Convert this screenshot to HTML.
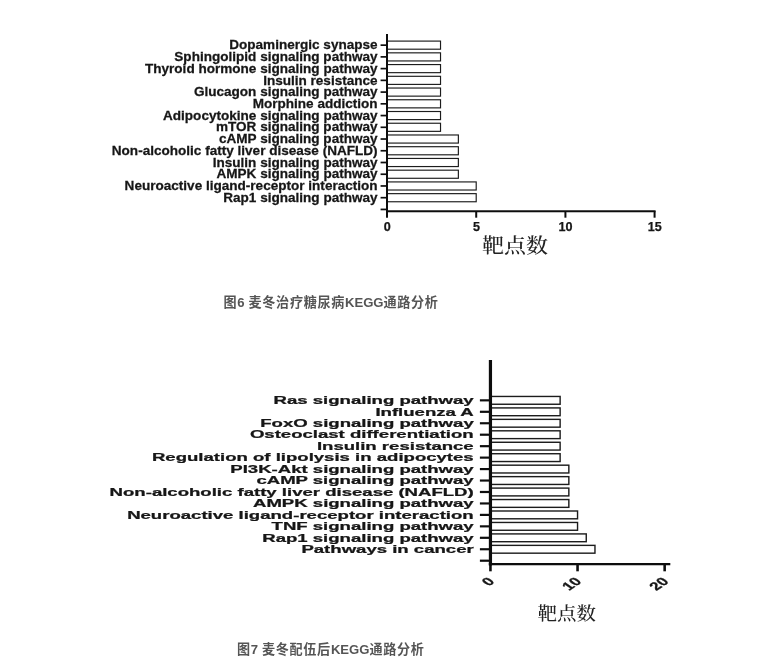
<!DOCTYPE html>
<html lang="zh-CN">
<head>
<meta charset="utf-8">
<title>KEGG通路分析</title>
<style>
html,body{margin:0;padding:0;background:#fff;}
body{width:782px;height:668px;overflow:hidden;font-family:"Liberation Sans","Noto Sans CJK SC",sans-serif;}
svg{display:block;}
.lab{font-family:"Liberation Sans",sans-serif;font-weight:bold;fill:#151515;stroke:#151515;stroke-width:0.25px;}
.cn{font-family:"Liberation Serif","Noto Serif CJK SC",serif;font-weight:500;fill:#222;}
.cap{font-family:"Liberation Sans","Noto Sans CJK SC",sans-serif;font-weight:bold;fill:#555;}
</style>
</head>
<body>
<svg width="782" height="668" viewBox="0 0 782 668">
<defs><filter id="soft" x="0" y="0" width="782" height="668" filterUnits="userSpaceOnUse"><feGaussianBlur stdDeviation="0.45"/></filter></defs>
<rect x="0" y="0" width="782" height="668" fill="#ffffff"/>
<g filter="url(#soft)">

<!-- Figure 6 chart -->
<g id="chart1">
<rect x="387" y="41.1" width="53.52" height="8.1" fill="#fff" stroke="#1a1a1a" stroke-width="1.15"/>
<rect x="387" y="52.84" width="53.52" height="8.1" fill="#fff" stroke="#1a1a1a" stroke-width="1.15"/>
<rect x="387" y="64.57" width="53.52" height="8.1" fill="#fff" stroke="#1a1a1a" stroke-width="1.15"/>
<rect x="387" y="76.3" width="53.52" height="8.1" fill="#fff" stroke="#1a1a1a" stroke-width="1.15"/>
<rect x="387" y="88.04" width="53.52" height="8.1" fill="#fff" stroke="#1a1a1a" stroke-width="1.15"/>
<rect x="387" y="99.77" width="53.52" height="8.1" fill="#fff" stroke="#1a1a1a" stroke-width="1.15"/>
<rect x="387" y="111.51" width="53.52" height="8.1" fill="#fff" stroke="#1a1a1a" stroke-width="1.15"/>
<rect x="387" y="123.24" width="53.52" height="8.1" fill="#fff" stroke="#1a1a1a" stroke-width="1.15"/>
<rect x="387" y="134.98" width="71.36" height="8.1" fill="#fff" stroke="#1a1a1a" stroke-width="1.15"/>
<rect x="387" y="146.71" width="71.36" height="8.1" fill="#fff" stroke="#1a1a1a" stroke-width="1.15"/>
<rect x="387" y="158.45" width="71.36" height="8.1" fill="#fff" stroke="#1a1a1a" stroke-width="1.15"/>
<rect x="387" y="170.18" width="71.36" height="8.1" fill="#fff" stroke="#1a1a1a" stroke-width="1.15"/>
<rect x="387" y="181.92" width="89.2" height="8.1" fill="#fff" stroke="#1a1a1a" stroke-width="1.15"/>
<rect x="387" y="193.66" width="89.2" height="8.1" fill="#fff" stroke="#1a1a1a" stroke-width="1.15"/>
<line x1="380.6" y1="45.15" x2="387" y2="45.15" stroke="#111" stroke-width="1.7"/>
<line x1="380.6" y1="56.88" x2="387" y2="56.88" stroke="#111" stroke-width="1.7"/>
<line x1="380.6" y1="68.62" x2="387" y2="68.62" stroke="#111" stroke-width="1.7"/>
<line x1="380.6" y1="80.35" x2="387" y2="80.35" stroke="#111" stroke-width="1.7"/>
<line x1="380.6" y1="92.09" x2="387" y2="92.09" stroke="#111" stroke-width="1.7"/>
<line x1="380.6" y1="103.82" x2="387" y2="103.82" stroke="#111" stroke-width="1.7"/>
<line x1="380.6" y1="115.56" x2="387" y2="115.56" stroke="#111" stroke-width="1.7"/>
<line x1="380.6" y1="127.29" x2="387" y2="127.29" stroke="#111" stroke-width="1.7"/>
<line x1="380.6" y1="139.03" x2="387" y2="139.03" stroke="#111" stroke-width="1.7"/>
<line x1="380.6" y1="150.76" x2="387" y2="150.76" stroke="#111" stroke-width="1.7"/>
<line x1="380.6" y1="162.5" x2="387" y2="162.5" stroke="#111" stroke-width="1.7"/>
<line x1="380.6" y1="174.23" x2="387" y2="174.23" stroke="#111" stroke-width="1.7"/>
<line x1="380.6" y1="185.97" x2="387" y2="185.97" stroke="#111" stroke-width="1.7"/>
<line x1="380.6" y1="197.71" x2="387" y2="197.71" stroke="#111" stroke-width="1.7"/>
<line x1="380.6" y1="209.44" x2="387" y2="209.44" stroke="#111" stroke-width="1.7"/>
<line x1="387" y1="34" x2="387" y2="212.2" stroke="#111" stroke-width="2.0"/>
<line x1="386" y1="211.2" x2="655.6" y2="211.2" stroke="#111" stroke-width="2.0"/>
<line x1="387" y1="211.2" x2="387" y2="217.7" stroke="#111" stroke-width="2.0"/>
<text class="lab" x="387.2" y="231.2" font-size="12.6" text-anchor="middle">0</text>
<line x1="476.2" y1="211.2" x2="476.2" y2="217.7" stroke="#111" stroke-width="2.0"/>
<text class="lab" x="476.4" y="231.2" font-size="12.6" text-anchor="middle">5</text>
<line x1="565.4" y1="211.2" x2="565.4" y2="217.7" stroke="#111" stroke-width="2.0"/>
<text class="lab" x="565.6" y="231.2" font-size="12.6" text-anchor="middle">10</text>
<line x1="654.6" y1="211.2" x2="654.6" y2="217.7" stroke="#111" stroke-width="2.0"/>
<text class="lab" x="654.8" y="231.2" font-size="12.6" text-anchor="middle">15</text>
<text class="lab" transform="translate(377.6 49.3) scale(1.06 1)" font-size="12.8" text-anchor="end">Dopaminergic synapse</text>
<text class="lab" transform="translate(377.6 61.03) scale(1.06 1)" font-size="12.8" text-anchor="end">Sphingolipid signaling pathway</text>
<text class="lab" transform="translate(377.6 72.77) scale(1.06 1)" font-size="12.8" text-anchor="end">Thyroid hormone signaling pathway</text>
<text class="lab" transform="translate(377.6 84.5) scale(1.06 1)" font-size="12.8" text-anchor="end">Insulin resistance</text>
<text class="lab" transform="translate(377.6 96.24) scale(1.06 1)" font-size="12.8" text-anchor="end">Glucagon signaling pathway</text>
<text class="lab" transform="translate(377.6 107.97) scale(1.06 1)" font-size="12.8" text-anchor="end">Morphine addiction</text>
<text class="lab" transform="translate(377.6 119.71) scale(1.06 1)" font-size="12.8" text-anchor="end">Adipocytokine signaling pathway</text>
<text class="lab" transform="translate(377.6 131.44) scale(1.06 1)" font-size="12.8" text-anchor="end">mTOR signaling pathway</text>
<text class="lab" transform="translate(377.6 143.18) scale(1.06 1)" font-size="12.8" text-anchor="end">cAMP signaling pathway</text>
<text class="lab" transform="translate(377.6 154.91) scale(1.06 1)" font-size="12.8" text-anchor="end">Non-alcoholic fatty liver disease (NAFLD)</text>
<text class="lab" transform="translate(377.6 166.65) scale(1.06 1)" font-size="12.8" text-anchor="end">Insulin signaling pathway</text>
<text class="lab" transform="translate(377.6 178.38) scale(1.06 1)" font-size="12.8" text-anchor="end">AMPK signaling pathway</text>
<text class="lab" transform="translate(377.6 190.12) scale(1.06 1)" font-size="12.8" text-anchor="end">Neuroactive ligand-receptor interaction</text>
<text class="lab" transform="translate(377.6 201.86) scale(1.06 1)" font-size="12.8" text-anchor="end">Rap1 signaling pathway</text>
<text class="cn" transform="translate(515.1 252.8) scale(1.1 1)" font-size="20" text-anchor="middle">靶点数</text>
</g>
<text class="cap" x="331.1" y="307.2" font-size="13.1" letter-spacing="0.67" text-anchor="middle">图<tspan letter-spacing="0.15">6 </tspan>麦冬治疗糖尿病<tspan letter-spacing="0">KEGG</tspan>通路分析</text>
<!-- Figure 7 chart -->
<g id="chart2">
<rect x="490.45" y="396.45" width="69.68" height="7.8" fill="#fff" stroke="#1a1a1a" stroke-width="1.4"/>
<rect x="490.45" y="407.91" width="69.68" height="7.8" fill="#fff" stroke="#1a1a1a" stroke-width="1.4"/>
<rect x="490.45" y="419.36" width="69.68" height="7.8" fill="#fff" stroke="#1a1a1a" stroke-width="1.4"/>
<rect x="490.45" y="430.82" width="69.68" height="7.8" fill="#fff" stroke="#1a1a1a" stroke-width="1.4"/>
<rect x="490.45" y="442.27" width="69.68" height="7.8" fill="#fff" stroke="#1a1a1a" stroke-width="1.4"/>
<rect x="490.45" y="453.73" width="69.68" height="7.8" fill="#fff" stroke="#1a1a1a" stroke-width="1.4"/>
<rect x="490.45" y="465.18" width="78.39" height="7.8" fill="#fff" stroke="#1a1a1a" stroke-width="1.4"/>
<rect x="490.45" y="476.64" width="78.39" height="7.8" fill="#fff" stroke="#1a1a1a" stroke-width="1.4"/>
<rect x="490.45" y="488.09" width="78.39" height="7.8" fill="#fff" stroke="#1a1a1a" stroke-width="1.4"/>
<rect x="490.45" y="499.55" width="78.39" height="7.8" fill="#fff" stroke="#1a1a1a" stroke-width="1.4"/>
<rect x="490.45" y="511" width="87.1" height="7.8" fill="#fff" stroke="#1a1a1a" stroke-width="1.4"/>
<rect x="490.45" y="522.46" width="87.1" height="7.8" fill="#fff" stroke="#1a1a1a" stroke-width="1.4"/>
<rect x="490.45" y="533.91" width="95.81" height="7.8" fill="#fff" stroke="#1a1a1a" stroke-width="1.4"/>
<rect x="490.45" y="545.37" width="104.52" height="7.8" fill="#fff" stroke="#1a1a1a" stroke-width="1.4"/>
<line x1="479.9" y1="400.35" x2="490.45" y2="400.35" stroke="#111" stroke-width="2.2"/>
<line x1="479.9" y1="411.81" x2="490.45" y2="411.81" stroke="#111" stroke-width="2.2"/>
<line x1="479.9" y1="423.26" x2="490.45" y2="423.26" stroke="#111" stroke-width="2.2"/>
<line x1="479.9" y1="434.72" x2="490.45" y2="434.72" stroke="#111" stroke-width="2.2"/>
<line x1="479.9" y1="446.17" x2="490.45" y2="446.17" stroke="#111" stroke-width="2.2"/>
<line x1="479.9" y1="457.62" x2="490.45" y2="457.62" stroke="#111" stroke-width="2.2"/>
<line x1="479.9" y1="469.08" x2="490.45" y2="469.08" stroke="#111" stroke-width="2.2"/>
<line x1="479.9" y1="480.54" x2="490.45" y2="480.54" stroke="#111" stroke-width="2.2"/>
<line x1="479.9" y1="491.99" x2="490.45" y2="491.99" stroke="#111" stroke-width="2.2"/>
<line x1="479.9" y1="503.45" x2="490.45" y2="503.45" stroke="#111" stroke-width="2.2"/>
<line x1="479.9" y1="514.9" x2="490.45" y2="514.9" stroke="#111" stroke-width="2.2"/>
<line x1="479.9" y1="526.36" x2="490.45" y2="526.36" stroke="#111" stroke-width="2.2"/>
<line x1="479.9" y1="537.81" x2="490.45" y2="537.81" stroke="#111" stroke-width="2.2"/>
<line x1="479.9" y1="549.26" x2="490.45" y2="549.26" stroke="#111" stroke-width="2.2"/>
<line x1="479.9" y1="560.72" x2="490.45" y2="560.72" stroke="#111" stroke-width="2.2"/>
<line x1="490.45" y1="359.9" x2="490.45" y2="565.5" stroke="#111" stroke-width="3.2"/>
<line x1="488.85" y1="564.1" x2="670.3" y2="564.1" stroke="#111" stroke-width="2.1"/>
<line x1="490.45" y1="563.9" x2="490.45" y2="571.3" stroke="#111" stroke-width="2.6"/>
<text class="lab" transform="translate(495.35 582.0) scale(1.5 1) rotate(-45)" font-size="11.3" text-anchor="end">0</text>
<line x1="577.55" y1="563.9" x2="577.55" y2="571.3" stroke="#111" stroke-width="2.6"/>
<text class="lab" transform="translate(582.45 582.0) scale(1.5 1) rotate(-45)" font-size="11.3" text-anchor="end">10</text>
<line x1="664.65" y1="563.9" x2="664.65" y2="571.3" stroke="#111" stroke-width="2.6"/>
<text class="lab" transform="translate(669.55 582.0) scale(1.5 1) rotate(-45)" font-size="11.3" text-anchor="end">20</text>
<text class="lab" transform="translate(473.7 404.1) scale(1.575 1)" font-size="11.8" text-anchor="end">Ras signaling pathway</text>
<text class="lab" transform="translate(473.7 415.56) scale(1.575 1)" font-size="11.8" text-anchor="end">Influenza A</text>
<text class="lab" transform="translate(473.7 427.01) scale(1.575 1)" font-size="11.8" text-anchor="end">FoxO signaling pathway</text>
<text class="lab" transform="translate(473.7 438.47) scale(1.575 1)" font-size="11.8" text-anchor="end">Osteoclast differentiation</text>
<text class="lab" transform="translate(473.7 449.92) scale(1.575 1)" font-size="11.8" text-anchor="end">Insulin resistance</text>
<text class="lab" transform="translate(473.7 461.38) scale(1.575 1)" font-size="11.8" text-anchor="end">Regulation of lipolysis in adipocytes</text>
<text class="lab" transform="translate(473.7 472.83) scale(1.575 1)" font-size="11.8" text-anchor="end">PI3K-Akt signaling pathway</text>
<text class="lab" transform="translate(473.7 484.29) scale(1.575 1)" font-size="11.8" text-anchor="end">cAMP signaling pathway</text>
<text class="lab" transform="translate(473.7 495.74) scale(1.575 1)" font-size="11.8" text-anchor="end">Non-alcoholic fatty liver disease (NAFLD)</text>
<text class="lab" transform="translate(473.7 507.2) scale(1.575 1)" font-size="11.8" text-anchor="end">AMPK signaling pathway</text>
<text class="lab" transform="translate(473.7 518.65) scale(1.575 1)" font-size="11.8" text-anchor="end">Neuroactive ligand-receptor interaction</text>
<text class="lab" transform="translate(473.7 530.11) scale(1.575 1)" font-size="11.8" text-anchor="end">TNF signaling pathway</text>
<text class="lab" transform="translate(473.7 541.56) scale(1.575 1)" font-size="11.8" text-anchor="end">Rap1 signaling pathway</text>
<text class="lab" transform="translate(473.7 553.01) scale(1.575 1)" font-size="11.8" text-anchor="end">Pathways in cancer</text>
<text class="cn" transform="translate(566.8 620.3) scale(1.06 1)" font-size="18.4" text-anchor="middle">靶点数</text>
</g>
<text class="cap" x="330.8" y="654" font-size="13.1" letter-spacing="0.67" text-anchor="middle">图<tspan letter-spacing="0.15">7 </tspan>麦冬配伍后<tspan letter-spacing="0">KEGG</tspan>通路分析</text>
</g>
</svg>
</body>
</html>
